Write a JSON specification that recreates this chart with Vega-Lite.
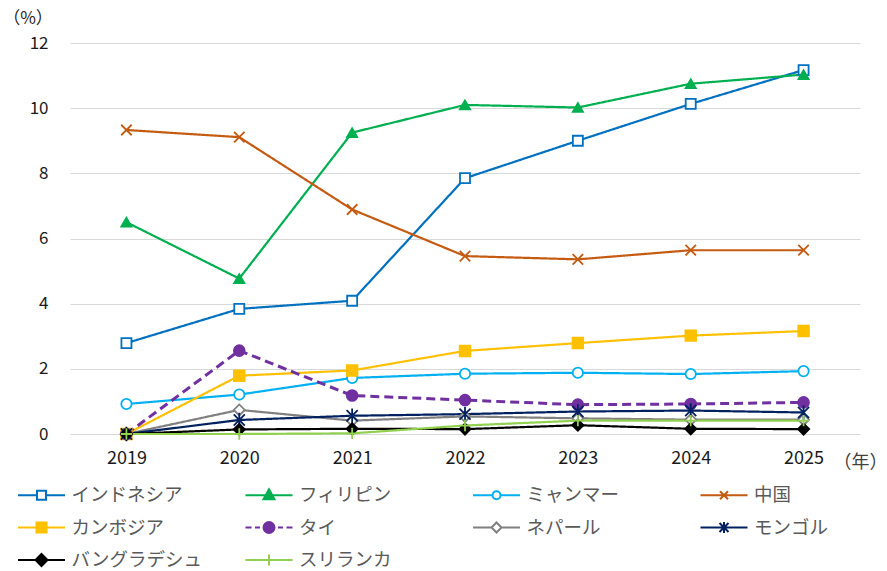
{
  "$schema": "https://vega.github.io/schema/vega-lite/v6.json",
  "width": 790,
  "height": 391,
  "autosize": {"type": "none"},
  "padding": {"left": 70, "top": 43, "right": 27, "bottom": 137},
  "background": "white",
  "config": {
    "font": "Noto Sans CJK JP",
    "view": {"stroke": null},
    "legend": {
      "orient": "none",
      "direction": "horizontal",
      "legendX": -39.5,
      "legendY": 441,
      "columns": 4,
      "gridAlign": "all",
      "columnPadding": 39.5,
      "rowPadding": 11.5,
      "symbolSize": 400,
      "symbolStrokeWidth": 2,
      "labelFontSize": 18.5,
      "labelColor": "#595959",
      "labelFont": "Noto Sans CJK JP",
      "labelOffset": 19,
      "labelLimit": 300,
      "symbolLimit": 0,
      "padding": 0,
      "title": null
    }
  },
  "data": {
    "values": [
      {"year": "2019", "country": "インドネシア", "value": 2.79},
      {"year": "2020", "country": "インドネシア", "value": 3.84},
      {"year": "2021", "country": "インドネシア", "value": 4.09},
      {"year": "2022", "country": "インドネシア", "value": 7.85},
      {"year": "2023", "country": "インドネシア", "value": 9.0},
      {"year": "2024", "country": "インドネシア", "value": 10.13},
      {"year": "2025", "country": "インドネシア", "value": 11.17},
      {"year": "2019", "country": "フィリピン", "value": 6.5},
      {"year": "2020", "country": "フィリピン", "value": 4.77},
      {"year": "2021", "country": "フィリピン", "value": 9.25},
      {"year": "2022", "country": "フィリピン", "value": 10.1},
      {"year": "2023", "country": "フィリピン", "value": 10.02},
      {"year": "2024", "country": "フィリピン", "value": 10.75},
      {"year": "2025", "country": "フィリピン", "value": 11.03},
      {"year": "2019", "country": "ミャンマー", "value": 0.92},
      {"year": "2020", "country": "ミャンマー", "value": 1.21},
      {"year": "2021", "country": "ミャンマー", "value": 1.72},
      {"year": "2022", "country": "ミャンマー", "value": 1.85},
      {"year": "2023", "country": "ミャンマー", "value": 1.88},
      {"year": "2024", "country": "ミャンマー", "value": 1.84},
      {"year": "2025", "country": "ミャンマー", "value": 1.93},
      {"year": "2019", "country": "中国", "value": 9.33},
      {"year": "2020", "country": "中国", "value": 9.11},
      {"year": "2021", "country": "中国", "value": 6.89},
      {"year": "2022", "country": "中国", "value": 5.46},
      {"year": "2023", "country": "中国", "value": 5.36},
      {"year": "2024", "country": "中国", "value": 5.64},
      {"year": "2025", "country": "中国", "value": 5.64},
      {"year": "2019", "country": "カンボジア", "value": 0},
      {"year": "2020", "country": "カンボジア", "value": 1.79},
      {"year": "2021", "country": "カンボジア", "value": 1.95},
      {"year": "2022", "country": "カンボジア", "value": 2.55},
      {"year": "2023", "country": "カンボジア", "value": 2.79},
      {"year": "2024", "country": "カンボジア", "value": 3.02},
      {"year": "2025", "country": "カンボジア", "value": 3.16},
      {"year": "2019", "country": "タイ", "value": 0},
      {"year": "2020", "country": "タイ", "value": 2.56},
      {"year": "2021", "country": "タイ", "value": 1.18},
      {"year": "2022", "country": "タイ", "value": 1.04},
      {"year": "2023", "country": "タイ", "value": 0.9},
      {"year": "2024", "country": "タイ", "value": 0.92},
      {"year": "2025", "country": "タイ", "value": 0.97},
      {"year": "2019", "country": "ネパール", "value": 0},
      {"year": "2020", "country": "ネパール", "value": 0.74},
      {"year": "2021", "country": "ネパール", "value": 0.41},
      {"year": "2022", "country": "ネパール", "value": 0.54},
      {"year": "2023", "country": "ネパール", "value": 0.48},
      {"year": "2024", "country": "ネパール", "value": 0.44},
      {"year": "2025", "country": "ネパール", "value": 0.44},
      {"year": "2019", "country": "モンゴル", "value": 0},
      {"year": "2020", "country": "モンゴル", "value": 0.43},
      {"year": "2021", "country": "モンゴル", "value": 0.56},
      {"year": "2022", "country": "モンゴル", "value": 0.61},
      {"year": "2023", "country": "モンゴル", "value": 0.69},
      {"year": "2024", "country": "モンゴル", "value": 0.72},
      {"year": "2025", "country": "モンゴル", "value": 0.66},
      {"year": "2019", "country": "バングラデシュ", "value": 0},
      {"year": "2020", "country": "バングラデシュ", "value": 0.14},
      {"year": "2021", "country": "バングラデシュ", "value": 0.16},
      {"year": "2022", "country": "バングラデシュ", "value": 0.15},
      {"year": "2023", "country": "バングラデシュ", "value": 0.27},
      {"year": "2024", "country": "バングラデシュ", "value": 0.16},
      {"year": "2025", "country": "バングラデシュ", "value": 0.15},
      {"year": "2019", "country": "スリランカ", "value": 0},
      {"year": "2020", "country": "スリランカ", "value": 0.0},
      {"year": "2021", "country": "スリランカ", "value": 0.02},
      {"year": "2022", "country": "スリランカ", "value": 0.26},
      {"year": "2023", "country": "スリランカ", "value": 0.41},
      {"year": "2024", "country": "スリランカ", "value": 0.41},
      {"year": "2025", "country": "スリランカ", "value": 0.41}
    ]
  },
  "encoding": {
    "x": {
      "field": "year",
      "type": "ordinal",
      "scale": {"type": "point", "padding": 0.5},
      "axis": {
        "title": "（年）",
        "titleX": 817,
        "titleY": 28,
        "titleAlign": "right",
        "titleBaseline": "middle",
        "titleFontSize": 18,
        "titleFontWeight": "normal",
        "titleColor": "#404040",
        "labelAngle": 0,
        "labelFontSize": 18,
        "labelColor": "#1a1a1a",
        "labelPadding": 15,
        "ticks": false,
        "domain": false,
        "grid": false
      }
    },
    "y": {
      "field": "value",
      "type": "quantitative",
      "scale": {"domain": [0, 12], "nice": false},
      "axis": {
        "values": [0, 2, 4, 6, 8, 10, 12],
        "title": "（%）",
        "titleAngle": 0,
        "titleX": -42.5,
        "titleY": -25,
        "titleAlign": "center",
        "titleBaseline": "middle",
        "titleFontSize": 17,
        "titleFontWeight": "normal",
        "titleColor": "#262626",
        "labelFontSize": 17,
        "labelColor": "#1a1a1a",
        "labelPadding": 22,
        "ticks": false,
        "domain": false,
        "grid": true,
        "gridColor": "#d9d9d9",
        "gridWidth": 1
      }
    }
  },
  "layer": [
    {
      "mark": {"type": "line", "strokeJoin": "round"},
      "encoding": {
        "stroke": {
          "field": "country",
          "type": "nominal",
          "scale": {
            "domain": ["インドネシア", "フィリピン", "ミャンマー", "中国", "カンボジア", "タイ", "ネパール", "モンゴル", "バングラデシュ", "スリランカ"],
            "range": ["#0070C0", "#00B050", "#00B0F0", "#C55A11", "#FFC000", "#7030A0", "#808080", "#002060", "#000000", "#92D050"]
          },
          "legend": null
        },
        "strokeDash": {"condition": {"test": "datum.country === 'タイ'", "value": [9, 5]}, "value": [1, 0]},
        "strokeWidth": {"condition": {"test": "datum.country === 'タイ'", "value": 3}, "value": 2.2}
      }
    },
    {
      "mark": {"type": "point", "filled": false, "opacity": 1, "strokeWidth": 1.8},
      "encoding": {
        "stroke": {
          "field": "country",
          "type": "nominal",
          "scale": {
            "domain": ["インドネシア", "フィリピン", "ミャンマー", "中国", "カンボジア", "タイ", "ネパール", "モンゴル", "バングラデシュ", "スリランカ"],
            "range": ["#0070C0", "#00B050", "#00B0F0", "#C55A11", "#FFC000", "#7030A0", "#808080", "#002060", "#000000", "#92D050"]
          },
          "legend": null
        },
        "fill": {
          "field": "country",
          "type": "nominal",
          "scale": {
            "domain": ["インドネシア", "フィリピン", "ミャンマー", "中国", "カンボジア", "タイ", "ネパール", "モンゴル", "バングラデシュ", "スリランカ"],
            "range": ["#ffffff", "#00B050", "#ffffff", "transparent", "#FFC000", "#7030A0", "#ffffff", "transparent", "#000000", "transparent"]
          },
          "legend": null
        },
        "shape": {
          "field": "country",
          "type": "nominal",
          "scale": {
            "domain": ["インドネシア", "フィリピン", "ミャンマー", "中国", "カンボジア", "タイ", "ネパール", "モンゴル", "バングラデシュ", "スリランカ"],
            "range": ["square", "triangle-up", "circle", "M-1,-1L1,1M-1,1L1,-1", "square", "circle", "diamond", "M-1,-1L1,1M-1,1L1,-1M0,-1.3V1.3", "diamond", "M-1,0H1M0,-1V1"]
          },
          "legend": null
        },
        "size": {
          "field": "country",
          "type": "nominal",
          "scale": {
            "domain": ["インドネシア", "フィリピン", "ミャンマー", "中国", "カンボジア", "タイ", "ネパール", "モンゴル", "バングラデシュ", "スリランカ"],
            "range": [100, 130, 100, 70, 110, 160, 140, 70, 140, 110]
          },
          "legend": null
        }
      }
    },
    {
      "transform": [{"filter": "datum.value < -100"}],
      "mark": {"type": "point", "filled": false, "opacity": 1, "size": 400, "strokeWidth": 2},
      "encoding": {
        "stroke": {
          "field": "country",
          "type": "nominal",
          "title": null,
          "scale": {
            "domain": ["インドネシア", "フィリピン", "ミャンマー", "中国", "カンボジア", "タイ", "ネパール", "モンゴル", "バングラデシュ", "スリランカ"],
            "range": ["#0070C0", "#00B050", "#00B0F0", "#C55A11", "#FFC000", "#7030A0", "#808080", "#002060", "#000000", "#92D050"]
          }
        },
        "fill": {
          "field": "country",
          "type": "nominal",
          "title": null,
          "scale": {
            "domain": ["インドネシア", "フィリピン", "ミャンマー", "中国", "カンボジア", "タイ", "ネパール", "モンゴル", "バングラデシュ", "スリランカ"],
            "range": ["#ffffff", "#00B050", "#ffffff", "transparent", "#FFC000", "#7030A0", "#ffffff", "transparent", "#000000", "transparent"]
          }
        },
        "shape": {
          "field": "country",
          "type": "nominal",
          "title": null,
          "scale": {
            "domain": ["インドネシア", "フィリピン", "ミャンマー", "中国", "カンボジア", "タイ", "ネパール", "モンゴル", "バングラデシュ", "スリランカ"],
            "range": [
              "M-2.35,0H-0.45M0.45,0H2.35M-0.45,-0.45H0.45V0.45H-0.45Z",
              "M-2.35,0H2.35M0,-0.6L0.55,0.4H-0.55Z",
              "M-2.35,0H-0.4M0.4,0H2.35M0.4,0A0.4,0.4 0 1,1 -0.4,0A0.4,0.4 0 1,1 0.4,0Z",
              "M-2.35,0H2.35M-0.4,-0.4L0.4,0.4M-0.4,0.4L0.4,-0.4",
              "M-2.35,0H2.35M-0.5,-0.5H0.5V0.5H-0.5Z",
              "M-2.35,0H-1.75M-1.4,0H-0.9M0.9,0H1.4M1.75,0H2.35M0.55,0A0.55,0.55 0 1,1 -0.55,0A0.55,0.55 0 1,1 0.55,0Z",
              "M-2.35,0H-0.5M0.5,0H2.35M0,-0.5L0.5,0L0,0.5L-0.5,0Z",
              "M-2.35,0H2.35M-0.45,-0.45L0.45,0.45M-0.45,0.45L0.45,-0.45M0,-0.55V0.55",
              "M-2.35,0H2.35M0,-0.6L0.6,0L0,0.6L-0.6,0Z",
              "M-2.35,0H2.35M0,-0.55V0.55"
            ]
          }
        }
      }
    }
  ],
  "resolve": {
    "scale": {"stroke": "independent", "fill": "independent", "shape": "independent", "size": "independent"}
  }
}
